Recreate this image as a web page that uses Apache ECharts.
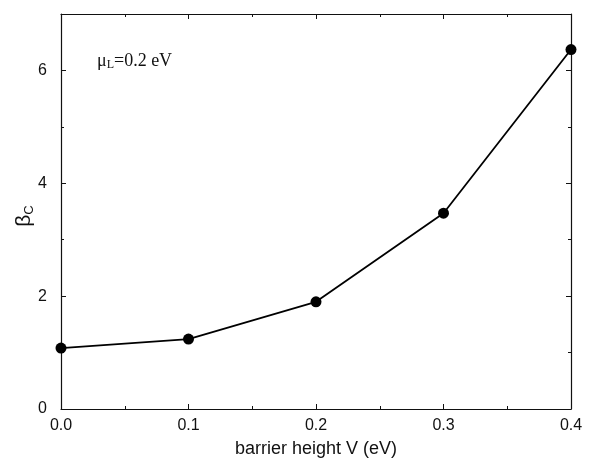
<!DOCTYPE html>
<html><head><meta charset="utf-8">
<script src="https://cdn.jsdelivr.net/npm/echarts@6/dist/echarts.min.js"></script>
<style>html,body{margin:0;padding:0;background:#fff}#c{width:598px;height:460px}</style>
</head><body><div id="c"></div>
<script>
const barrierV = [0.0, 0.1, 0.2, 0.3, 0.4];
const betaC = [1.08, 1.24, 1.9, 3.47, 6.37];
const xTicks = ['0.0', '0.1', '0.2', '0.3', '0.4'];
const yTicks = ['0', '2', '4', '6'];

const chart = echarts.init(document.getElementById('c'));
function axisCommon() {
  return {
    axisLine: {show: true, onZero: false, lineStyle: {color: '#111', width: 1.2}},
    axisTick: {show: true, inside: true, length: 5, lineStyle: {color: '#111'}},
    minorTick: {show: true, splitNumber: 2, length: 3, lineStyle: {color: '#111'}},
    splitLine: {show: false}
  };
}
chart.setOption({
  animation: false,
  grid: {left: 61, right: 27, top: 14, bottom: 51, containLabel: false, outerBoundsMode: 'none'},
  title: {
    text: '{m|μ}{s|L}{m|=0.2 eV}', left: 92, top: 46,
    textStyle: {rich: {
      m: {fontFamily: 'Liberation Serif', fontSize: 18, fontWeight: 'normal', color: '#111'},
      s: {fontFamily: 'Liberation Serif', fontSize: 12, fontWeight: 'normal', color: '#111', verticalAlign: 'bottom', padding: [8, 0, 0, 0]}
    }}
  },
  graphic: [{
    type: 'text', x: 24, y: 216, rotation: Math.PI / 2,
    style: {
      text: '{b|β}{s|C}', align: 'center', verticalAlign: 'middle',
      rich: {
        b: {fontFamily: 'Liberation Sans', fontSize: 21, fill: '#111'},
        s: {fontFamily: 'Liberation Sans', fontSize: 13, fill: '#111', verticalAlign: 'bottom', padding: [10, 0, 0, 0]}
      }
    }
  }],
  xAxis: [
    Object.assign({
      type: 'value', min: 0, max: 0.4, interval: 0.1,
      name: 'barrier height V (eV)', nameLocation: 'middle', nameGap: 31,
      nameTextStyle: {fontFamily: 'Liberation Sans', fontSize: 18, color: '#111'},
      axisLabel: {fontFamily: 'Liberation Sans', fontSize: 16, color: '#111', margin: 9,
        formatter: v => xTicks[Math.round(v * 10)]}
    }, axisCommon()),
    Object.assign({
      type: 'value', min: 0, max: 0.4, interval: 0.1, position: 'top',
      axisLabel: {show: false}
    }, axisCommon())
  ],
  yAxis: [
    Object.assign({
      type: 'value', min: 0, max: 7, interval: 2,
      axisLabel: {fontFamily: 'Liberation Sans', fontSize: 16, color: '#111', margin: 14,
        formatter: v => (v % 2 === 0 && yTicks[v / 2] !== undefined) ? yTicks[v / 2] : ''}
    }, axisCommon()),
    Object.assign({
      type: 'value', min: 0, max: 7, interval: 2, position: 'right',
      axisLabel: {show: false}
    }, axisCommon())
  ],
  series: [{
    type: 'line',
    data: barrierV.map((x, i) => [x, betaC[i]]),
    symbol: 'circle', symbolSize: 11,
    lineStyle: {color: '#000', width: 1.8},
    itemStyle: {color: '#000'},
    clip: false
  }]
});
</script></body></html>
